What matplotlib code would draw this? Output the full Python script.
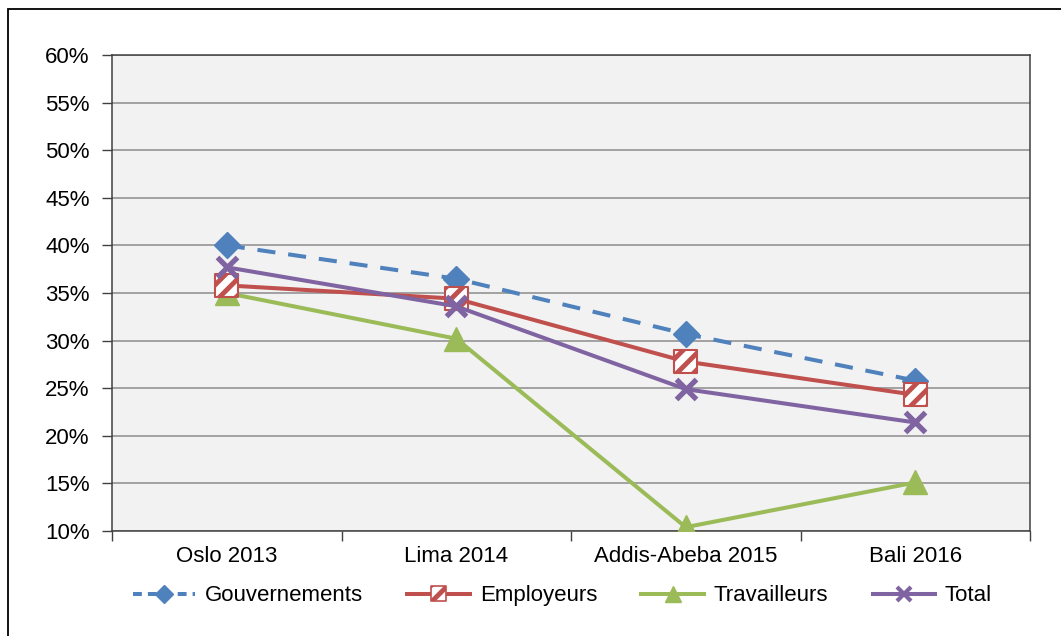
import numpy as np
import matplotlib.pyplot as plt
from matplotlib.lines import Line2D
from matplotlib.patches import Rectangle
from matplotlib.legend_handler import HandlerTuple
from matplotlib.ticker import FixedLocator, PercentFormatter

# ---- data (share, in %) ----
sessions = ["Oslo 2013", "Lima 2014", "Addis-Abeba 2015", "Bali 2016"]
gouvernements = [40.0, 36.5, 30.7, 25.8]
employeurs = [35.8, 34.4, 27.8, 24.3]
travailleurs = [35.0, 30.2, 10.4, 15.1]
total = [37.7, 33.6, 24.9, 21.4]

BLUE = "#4F81BD"
RED = "#C0504D"
GREEN = "#9BBB59"
PURPLE = "#8064A2"
FS = 16

plt.rcParams["font.family"] = ["Liberation Sans", "DejaVu Sans"]
plt.rcParams["hatch.color"] = RED
plt.rcParams["hatch.linewidth"] = 3.5

fig = plt.figure(figsize=(10.61, 6.36), dpi=100)
ax = fig.add_axes([112 / 1061, 1 - 531 / 636, 918 / 1061, 476 / 636])
ax.set_facecolor("#F2F2F2")

x = np.arange(len(sessions))
LW = 2.9

ax.plot(x, gouvernements, color=BLUE, lw=LW, dashes=[4.5, 3.2],
        marker="D", ms=13, mfc=BLUE, mec=BLUE, zorder=4)
ax.plot(x, travailleurs, color=GREEN, lw=LW,
        marker="^", ms=17, mfc=GREEN, mec=GREEN, zorder=4)
ax.plot(x, employeurs, color=RED, lw=LW, zorder=4)
ax.scatter(x, employeurs, s=280, marker="s", facecolor="white",
           edgecolor=RED, linewidth=1.5, hatch="//", zorder=5)
ax.plot(x, total, color=PURPLE, lw=LW,
        marker="x", ms=15, mew=3.8, mec=PURPLE, zorder=6)

# axes, grid and ticks
ax.set_xlim(-0.5, len(sessions) - 0.5)
ax.set_ylim(10, 60)
ax.yaxis.set_major_locator(FixedLocator(np.arange(10, 61, 5)))
ax.yaxis.set_major_formatter(PercentFormatter(decimals=0))
ax.grid(axis="y", color="#8C8C8C", lw=1.1)
ax.set_axisbelow(True)

ax.set_xticks(x)
ax.set_xticklabels(sessions)
ax.set_xticks(np.arange(-0.5, len(sessions)), minor=True)
ax.tick_params(axis="x", which="major", length=0, pad=11, labelsize=FS)
ax.tick_params(axis="x", which="minor", length=7, width=1, color="#404040")
ax.tick_params(axis="y", length=7, width=1, color="#404040", pad=9,
               labelsize=FS)
for side in ["left", "bottom", "right", "top"]:
    ax.spines[side].set_color("#404040")
    ax.spines[side].set_linewidth(1.1)

# legend below the plot
h_gouv = Line2D([], [], color=BLUE, lw=LW, dashes=[2.2, 1.5],
                marker="D", ms=9, mfc=BLUE, mec=BLUE)
h_emp_line = Line2D([], [], color=RED, lw=LW)
h_emp_mark = ax.scatter([], [], s=120, marker="s", facecolor="white",
                        edgecolor=RED, linewidth=1.2, hatch="//")
h_trav = Line2D([], [], color=GREEN, lw=LW, marker="^", ms=11,
                mfc=GREEN, mec=GREEN)
h_tot = Line2D([], [], color=PURPLE, lw=LW, marker="x", ms=10, mew=3,
               mec=PURPLE)

fig.legend([h_gouv, (h_emp_line, h_emp_mark), h_trav, h_tot],
           ["Gouvernements", "Employeurs", "Travailleurs", "Total"],
           handler_map={tuple: HandlerTuple(ndivide=1)},
           loc="center", bbox_to_anchor=(0.530, 0.063), ncol=4,
           frameon=False, fontsize=FS, handlelength=2.8,
           handletextpad=0.45, columnspacing=2.0, scatteryoffsets=[0.5])

# outer chart frame
fig.patches.append(Rectangle((8 / 1061, -0.05), 1.1, 1 - 9 / 636 + 0.05,
                             transform=fig.transFigure, fill=False,
                             edgecolor="black", lw=1.3))

fig.savefig("out.png", dpi=100)
